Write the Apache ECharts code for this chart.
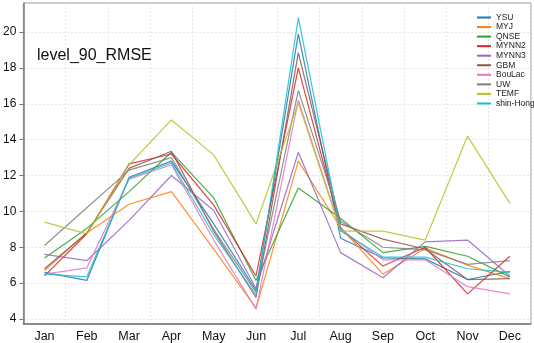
<!DOCTYPE html>
<html>
<head>
<meta charset="utf-8">
<script src="https://cdn.jsdelivr.net/npm/echarts@6/dist/echarts.min.js"></script>
<style>
  html, body { margin: 0; padding: 0; background: #fff; }
  #chart { width: 534px; height: 343px; }
</style>
</head>
<body>
<div id="chart"></div>
<script>
const months = ['Jan', 'Feb', 'Mar', 'Apr', 'May', 'Jun', 'Jul', 'Aug', 'Sep', 'Oct', 'Nov', 'Dec']
const yTicks = [4, 6, 8, 10, 12, 14, 16, 18, 20]

const ysu = [6.6, 6.15, 11.9, 12.8, 9.3, 5.6, 19.9, 8.5, 7.4, 7.35, 6.2, 6.65]
const myj = [6.7, 8.8, 10.4, 11.1, 7.9, 4.6, 12.8, 9.1, 6.5, 7.95, 7.0, 6.25]
const qnse = [7.4, 9.05, 11.1, 13.3, 10.75, 6.15, 11.3, 9.6, 7.7, 8.05, 7.5, 6.35]
const mynn2 = [6.4, 8.75, 12.65, 13.2, 10.35, 6.4, 18.0, 9.05, 6.95, 8.0, 5.4, 7.5]
const mynn3 = [7.6, 7.25, 9.5, 12.0, 10.05, 5.7, 13.3, 7.7, 6.3, 8.3, 8.4, 6.4]
const gbm = [6.8, 8.8, 12.4, 13.35, 8.9, 5.2, 18.85, 9.3, 8.45, 7.9, 6.2, 6.25]
const boulac = [6.5, 6.85, 11.8, 12.6, 8.4, 4.55, 16.2, 9.0, 7.3, 7.3, 5.8, 5.4]
const uw = [8.1, 10.2, 12.3, 13.0, 9.0, 5.5, 16.75, 9.45, 8.0, 7.85, 7.05, 7.25]
const temf = [9.4, 8.75, 12.6, 15.1, 13.15, 9.3, 16.05, 8.9, 8.9, 8.4, 14.2, 10.45]
const shinHong = [6.5, 6.35, 11.85, 12.7, 8.7, 5.35, 20.8, 8.9, 7.45, 7.45, 6.8, 6.6]

const seriesNames = ['YSU', 'MYJ', 'QNSE', 'MYNN2', 'MYNN3', 'GBM', 'BouLac', 'UW', 'TEMF', 'shin-Hong']
const seriesData = [ysu, myj, qnse, mynn2, mynn3, gbm, boulac, uw, temf, shinHong]
const colors = ['#1f77b4', '#ff7f0e', '#2ca02c', '#d62728', '#9467bd', '#8c564b', '#e377c2', '#7f7f7f', '#bcbd22', '#17becf']

const chart = echarts.init(document.getElementById('chart'), null, { renderer: 'canvas' })

const gridLine = { show: true, lineStyle: { color: '#e4e4e4', type: [2, 2], width: 1 } }

chart.setOption({
  animation: false,
  backgroundColor: '#fff',
  color: colors,
  textStyle: { fontFamily: 'Liberation Sans, Arial, sans-serif' },
  title: {
    text: 'level_90_RMSE',
    left: 32,
    top: 43,
    textStyle: { fontSize: 16, fontWeight: 'normal', color: '#111' }
  },
  legend: {
    orient: 'vertical',
    left: 472,
    top: 8,
    icon: 'rect',
    itemWidth: 14,
    itemHeight: 2,
    itemGap: 0.55,
    textStyle: { fontSize: 8.5, lineHeight: 8, color: '#222' },
    data: seriesNames
  },
  grid: {
    left: 23,
    right: 3,
    top: 3,
    bottom: 19,
    show: true,
    borderColor: '#999',
    borderWidth: 1
  },
  xAxis: {
    type: 'category',
    data: months,
    boundaryGap: true,
    axisLine: { lineStyle: { color: '#777', width: 1.5 } },
    axisTick: { alignWithLabel: true, length: 4, lineStyle: { color: '#777' } },
    axisLabel: { color: '#111', fontSize: 12.5, margin: 6 },
    splitLine: gridLine
  },
  yAxis: {
    type: 'value',
    min: 3.72,
    max: 21.62,
    axisLine: { show: true, lineStyle: { color: '#777', width: 1.5 } },
    axisTick: { show: true, length: 4, lineStyle: { color: '#777' }, customValues: yTicks },
    axisLabel: { color: '#111', fontSize: 12, margin: 7, customValues: yTicks },
    splitLine: gridLine
  },
  series: seriesNames.map((name, i) => ({
    name,
    type: 'line',
    data: seriesData[i],
    showSymbol: false,
    lineStyle: { width: 1.2, opacity: 0.85 },
    itemStyle: { color: colors[i] }
  }))
})
</script>
</body>
</html>
